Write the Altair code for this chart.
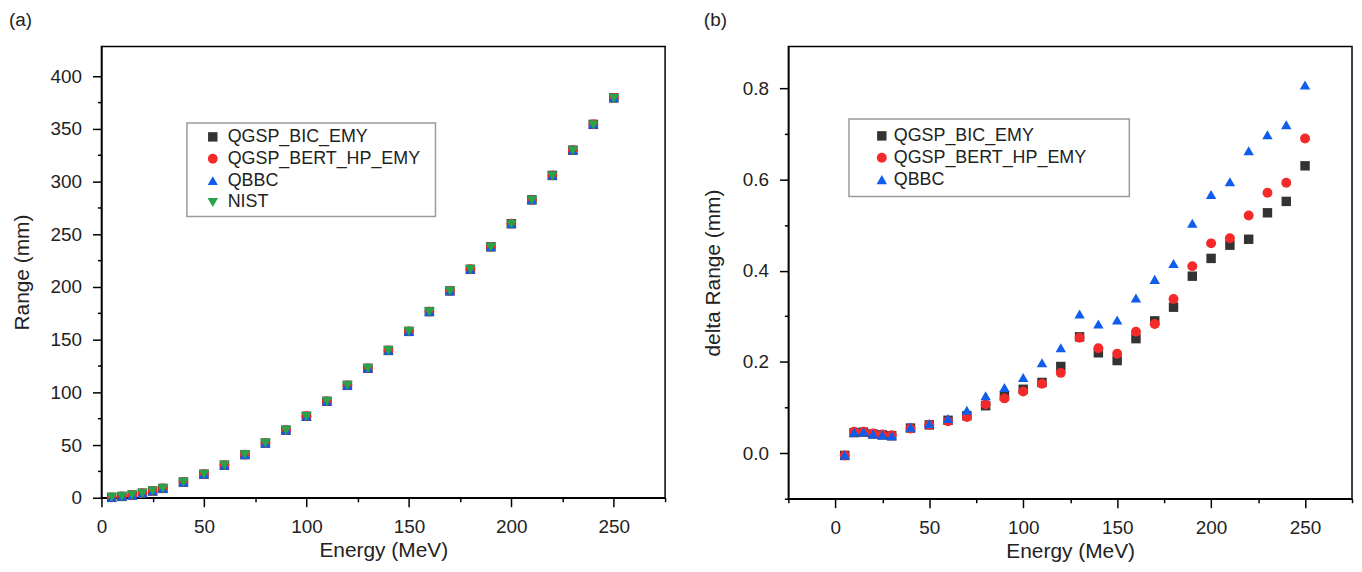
import altair as alt
import pandas as pd

FONT = "Liberation Sans"
TXT = "#222222"

energy = [5, 10, 15, 20, 25, 30, 40, 50, 60, 70, 80, 90, 100, 110, 120, 130,
          140, 150, 160, 170, 180, 190, 200, 210, 220, 230, 240, 250]

# (a) Range (mm)
nist_range = [0.36, 1.23, 2.54, 4.26, 6.37, 8.85, 14.8, 22.3, 30.8, 40.8, 51.8, 64.0,
              77.2, 91.4, 106.5, 122.6, 139.6, 157.7, 176.4, 196.0, 216.5, 237.7,
              259.6, 282.2, 305.4, 329.3, 353.8, 378.8]
bic_range = [0.36, 1.28, 2.59, 4.30, 6.41, 8.89, 14.86, 22.36, 30.87, 40.88, 51.90, 64.13,
             77.34, 91.56, 106.69, 122.86, 139.82, 157.90, 176.65, 196.29, 216.82, 238.09,
             260.03, 282.66, 305.87, 329.83, 354.35, 379.43]
bert_range = [0.36, 1.28, 2.59, 4.30, 6.41, 8.89, 14.85, 22.36, 30.87, 40.88, 51.91, 64.12,
              77.34, 91.55, 106.68, 122.85, 139.83, 157.92, 176.67, 196.28, 216.84, 238.11,
              260.06, 282.67, 305.92, 329.87, 354.39, 379.49]
qbbc_range = [0.36, 1.28, 2.59, 4.30, 6.41, 8.89, 14.86, 22.37, 30.88, 40.89, 51.93, 64.14,
              77.37, 91.60, 106.73, 122.91, 139.88, 157.99, 176.74, 196.38, 216.92, 238.20,
              260.17, 282.80, 306.06, 330.00, 354.52, 379.61]

# (b) delta Range (mm)
bic_delta = [-0.005, 0.045, 0.046, 0.042, 0.040, 0.038, 0.055, 0.062, 0.072, 0.082, 0.104,
             0.125, 0.140, 0.155, 0.190, 0.255, 0.220, 0.203, 0.251, 0.290, 0.320, 0.388,
             0.427, 0.456, 0.469, 0.527, 0.552, 0.630]
bert_delta = [-0.005, 0.047, 0.047, 0.043, 0.041, 0.039, 0.054, 0.062, 0.070, 0.079, 0.107,
              0.120, 0.135, 0.152, 0.176, 0.253, 0.230, 0.218, 0.266, 0.283, 0.338, 0.410,
              0.460, 0.471, 0.521, 0.571, 0.593, 0.690]
qbbc_delta = [-0.004, 0.046, 0.047, 0.042, 0.040, 0.038, 0.057, 0.065, 0.076, 0.094, 0.126,
              0.144, 0.166, 0.198, 0.231, 0.305, 0.283, 0.292, 0.340, 0.381, 0.416, 0.504,
              0.567, 0.595, 0.663, 0.698, 0.720, 0.807]

models_a = ["QGSP_BIC_EMY", "QGSP_BERT_HP_EMY", "QBBC", "NIST"]
models_b = ["QGSP_BIC_EMY", "QGSP_BERT_HP_EMY", "QBBC"]
colors = ["#333333", "#f42a2a", "#0e5ded", "#27a34a"]
shapes = ["square", "circle", "triangle-up", "triangle-down"]
sizes = [90, 110, 160, 160]


def long_table(models, series):
    rows = []
    for name, vals in zip(models, series):
        for e, v in zip(energy, vals):
            rows.append({"Energy": e, "Value": v, "Model": name})
    return pd.DataFrame(rows)


df_a = long_table(models_a, [bic_range, bert_range, qbbc_range, nist_range])
df_b = long_table(models_b, [bic_delta, bert_delta, qbbc_delta])


def make_axis(title, values, test, fmt, title_pad):
    return alt.Axis(
        title=title, values=values, format=fmt,
        labelExpr=f"({test}) ? datum.label : ''",
        tickSize={"condition": {"test": test, "value": 9}, "value": 4},
        grid=False, domainColor="black", domainWidth=1.5,
        tickColor="black", tickWidth=1.5,
        labelFont=FONT, labelFontSize=19, labelColor=TXT, labelPadding=11,
        labelFlush=False, labelOverlap=False,
        titleFont=FONT, titleFontSize=21, titleFontWeight="normal",
        titleColor=TXT, titlePadding=title_pad,
    )


def make_legend(x, y, pad, lead, lab_off, n_tail):
    # trailing no-break spaces, closed by a zero-width char so they are not trimmed
    tail = "\u00a0" * n_tail + "\u200b"
    return alt.Legend(
        title="\u00a0", titleOrient="left", titleFontSize=1, titlePadding=lead,
        orient="none", legendX=x, legendY=y,
        fillColor="white", strokeColor="#9a9a9a",
        padding=pad, symbolOffset=0, labelOffset=lab_off, rowPadding=4,
        labelFont=FONT, labelFontSize=18, labelColor=TXT, labelLimit=600,
        symbolSize=100, symbolStrokeWidth=0, symbolOpacity=1,
        labelExpr="datum.label + '" + tail + "'",
    )


x_test = "datum.value >= 0 && datum.value % 50 === 0"
leg_a = make_legend(86, 77, 5, 12, 6, 2)
leg_b = make_legend(61, 73, 8, 16, 3, 7)

chart_a = alt.Chart(df_a).mark_point(filled=True, opacity=1).encode(
    x=alt.X("Energy:Q", scale=alt.Scale(domain=[0, 275], nice=False, zero=False),
            axis=make_axis("Energy (MeV)", list(range(0, 276, 25)), x_test, "d", 3)),
    y=alt.Y("Value:Q", scale=alt.Scale(domain=[0, 428.3], nice=False, zero=False),
            axis=make_axis("Range (mm)", list(range(0, 401, 25)),
                           "datum.value % 50 === 0", "d", 18)),
    color=alt.Color("Model:N", scale=alt.Scale(domain=models_a, range=colors), legend=leg_a),
    shape=alt.Shape("Model:N", scale=alt.Scale(domain=models_a, range=shapes), legend=leg_a),
    size=alt.Size("Model:N", scale=alt.Scale(domain=models_a, range=sizes), legend=None),
).properties(
    width=567, height=454,
    title=alt.TitleParams("(a)", anchor="start", frame="group", dx=-93, offset=17,
                          fontSize=19, font=FONT, fontWeight="normal", color=TXT),
)

y_b_vals = [round(-0.1 + 0.1 * i, 1) for i in range(10)]
chart_b = alt.Chart(df_b).mark_point(filled=True, opacity=1).encode(
    x=alt.X("Energy:Q", scale=alt.Scale(domain=[-25, 275], nice=False, zero=False),
            axis=make_axis("Energy (MeV)", list(range(-25, 276, 25)), x_test, "d", 3)),
    y=alt.Y("Value:Q", scale=alt.Scale(domain=[-0.1, 0.8918], nice=False, zero=False),
            axis=make_axis("delta Range (mm)", y_b_vals,
                           "abs(round(datum.value * 10)) % 2 === 0 && datum.value > -0.05",
                           ".1f", 19)),
    color=alt.Color("Model:N", scale=alt.Scale(domain=models_b, range=colors[:3]), legend=leg_b),
    shape=alt.Shape("Model:N", scale=alt.Scale(domain=models_b, range=shapes[:3]), legend=leg_b),
    size=alt.Size("Model:N", scale=alt.Scale(domain=models_b, range=sizes[:3]), legend=None),
).properties(
    width=567, height=455,
    title=alt.TitleParams("(b)", anchor="start", frame="group", dx=-85, offset=17,
                          fontSize=19, font=FONT, fontWeight="normal", color=TXT),
)

chart = alt.hconcat(chart_a, chart_b, spacing=34).resolve_scale(
    color="independent", shape="independent", size="independent"
).resolve_legend(color="independent", shape="independent").properties(
    padding=0
).configure_view(stroke="black", strokeWidth=1.5).configure_legend(strokeWidth=1.5)

chart.save("out.html", embed_options={"renderer": "svg", "actions": False})
